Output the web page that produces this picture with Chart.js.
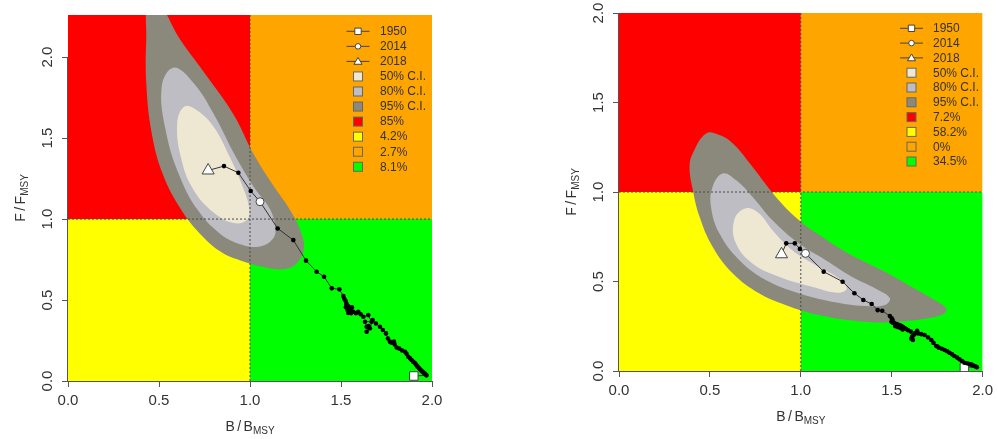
<!DOCTYPE html>
<html>
<head>
<meta charset="utf-8">
<script src="https://cdn.jsdelivr.net/npm/chart.js@4.4.1/dist/chart.umd.min.js"></script>
<style>
  html, body { margin: 0; padding: 0; background: #fff; }
  body { width: 998px; height: 439px; position: relative; overflow: hidden; }
  canvas { position: absolute; top: 0; }
</style>
</head>
<body>
<canvas id="left" width="500" height="439" style="left:0"></canvas>
<canvas id="right" width="498" height="439" style="left:500px"></canvas>
<script>
const FONT = '"Liberation Sans", Arial, Helvetica, sans-serif';

// ---- shared ----
const firstYear = 1950;
const markYears = [1950, 2014, 2018];
const xTicks = [0, 0.5, 1, 1.5, 2];
const yTicks = [0, 0.5, 1, 1.5, 2];
const refB = 1, refF = 1, xMax = 2;

const RED = '#ff0000', YELLOW = '#ffff00', ORANGE = '#ffa500', GREEN = '#00ff00';
const CI50 = '#eee8d3', CI80 = '#bdbdc3', CI95 = '#8b897c';

// ---- left panel data ----
const yMaxLeft = 2.26;
const bLeft = [1.900, 1.970, 1.965, 1.960, 1.953, 1.947, 1.941, 1.934, 1.927, 1.920,
  1.913, 1.907, 1.898, 1.888, 1.879, 1.870, 1.860, 1.852, 1.836, 1.820,
  1.806, 1.795, 1.791, 1.778, 1.769, 1.758, 1.747, 1.730, 1.714, 1.692,
  1.674, 1.659, 1.641, 1.652, 1.641, 1.632, 1.668, 1.650, 1.623, 1.608,
  1.595, 1.582, 1.568, 1.555, 1.560, 1.545, 1.540, 1.530, 1.527, 1.535,
  1.548, 1.540, 1.556, 1.530, 1.525, 1.518, 1.513, 1.491, 1.449, 1.407,
  1.366, 1.308, 1.238, 1.152, 1.055, 1.004, 0.936, 0.857, 0.770];
const fLeft = [0.031, 0.035, 0.040, 0.046, 0.052, 0.058, 0.065, 0.072, 0.082, 0.090,
  0.100, 0.109, 0.118, 0.130, 0.140, 0.150, 0.168, 0.181, 0.188, 0.200,
  0.207, 0.225, 0.243, 0.236, 0.243, 0.262, 0.294, 0.315, 0.335, 0.355,
  0.376, 0.325, 0.304, 0.340, 0.335, 0.366, 0.366, 0.407, 0.397, 0.412,
  0.428, 0.418, 0.428, 0.440, 0.455, 0.446, 0.462, 0.470, 0.455, 0.440,
  0.432, 0.420, 0.418, 0.478, 0.495, 0.508, 0.525, 0.566, 0.572, 0.644,
  0.675, 0.743, 0.870, 0.942, 1.107, 1.173, 1.286, 1.327, 1.300];
const ci95Left = [[1.295, 0.81], [1.25, 0.72], [1.17, 0.69], [1.07, 0.705], [0.96, 0.74],
  [0.85, 0.79], [0.725, 0.91], [0.615, 1.07], [0.52, 1.28], [0.46, 1.53], [0.43, 1.84],
  [0.43, 2.12], [0.44, 2.33], [0.50, 2.33], [0.61, 2.12], [0.725, 1.94], [0.907, 1.65],
  [1.016, 1.41], [1.126, 1.21], [1.22, 1.056], [1.28, 0.92]];
const ci80Left = [[0.58, 1.935], [0.515, 1.82], [0.54, 1.53], [0.615, 1.26], [0.71, 1.06],
  [0.835, 0.91], [0.96, 0.84], [1.055, 0.83], [1.12, 0.87], [1.14, 0.93], [1.11, 1.06],
  [1.02, 1.20], [0.91, 1.41], [0.80, 1.65], [0.69, 1.84]];
const ci50Left = [[0.64, 1.695], [0.60, 1.59], [0.625, 1.36], [0.69, 1.18], [0.80, 1.04],
  [0.91, 0.975], [0.985, 0.995], [0.995, 1.07], [0.96, 1.20], [0.89, 1.38], [0.80, 1.57],
  [0.71, 1.67]];
const legendLeft = ['1950', '2014', '2018', '50% C.I.', '80% C.I.', '95% C.I.', '85%', '4.2%', '2.7%', '8.1%'];

// ---- right panel data ----
const yMaxRight = 2.0;
const bRight = [1.900, 1.969, 1.962, 1.954, 1.945, 1.936, 1.927, 1.914, 1.900, 1.887,
  1.873, 1.860, 1.845, 1.832, 1.818, 1.805, 1.791, 1.776, 1.760, 1.752,
  1.745, 1.730, 1.718, 1.700, 1.681, 1.663, 1.645, 1.640, 1.627, 1.617,
  1.608, 1.612, 1.620, 1.605, 1.590, 1.580, 1.572, 1.563, 1.554, 1.545,
  1.538, 1.530, 1.524, 1.517, 1.510, 1.504, 1.499, 1.520, 1.535, 1.550,
  1.560, 1.540, 1.525, 1.510, 1.505, 1.500, 1.490, 1.448, 1.423, 1.390,
  1.344, 1.295, 1.230, 1.126, 1.026, 0.995, 0.967, 0.920, 0.894];
const fRight = [0.021, 0.021, 0.025, 0.028, 0.033, 0.037, 0.039, 0.043, 0.046, 0.056,
  0.065, 0.075, 0.084, 0.093, 0.102, 0.110, 0.117, 0.124, 0.130, 0.137,
  0.140, 0.157, 0.173, 0.188, 0.201, 0.206, 0.210, 0.225, 0.210, 0.173,
  0.180, 0.192, 0.200, 0.220, 0.228, 0.234, 0.238, 0.245, 0.251, 0.255,
  0.258, 0.260, 0.262, 0.263, 0.268, 0.272, 0.275, 0.250, 0.245, 0.240,
  0.232, 0.255, 0.262, 0.270, 0.285, 0.295, 0.307, 0.337, 0.340, 0.374,
  0.397, 0.434, 0.499, 0.555, 0.657, 0.682, 0.713, 0.713, 0.652];
const ci95Right = [[0.479, 1.327], [0.406, 1.216], [0.388, 1.141], [0.406, 1.011], [0.443, 0.862],
  [0.515, 0.694], [0.625, 0.546], [0.770, 0.434], [0.916, 0.369], [1.098, 0.313],
  [1.353, 0.275], [1.536, 0.275], [1.700, 0.294], [1.791, 0.322], [1.800, 0.350],
  [1.736, 0.397], [1.608, 0.471], [1.444, 0.564], [1.262, 0.657], [1.117, 0.750],
  [0.989, 0.844], [0.862, 0.974], [0.734, 1.141], [0.625, 1.272], [0.552, 1.318]];
const ci80Right = [[0.570, 1.104], [0.515, 1.030], [0.506, 0.918], [0.552, 0.769], [0.661, 0.620],
  [0.807, 0.508], [0.989, 0.434], [1.171, 0.387], [1.353, 0.363], [1.463, 0.369],
  [1.490, 0.406], [1.426, 0.453], [1.281, 0.527], [1.135, 0.620], [0.989, 0.713],
  [0.843, 0.844], [0.734, 0.974], [0.643, 1.067]];
const ci50Right = [[0.698, 0.909], [0.634, 0.844], [0.643, 0.713], [0.734, 0.601], [0.880, 0.527],
  [1.062, 0.471], [1.208, 0.437], [1.253, 0.462], [1.208, 0.518], [1.080, 0.592],
  [0.952, 0.676], [0.843, 0.788], [0.770, 0.881]];
const legendRight = ['1950', '2014', '2018', '50% C.I.', '80% C.I.', '95% C.I.', '7.2%', '58.2%', '0%', '34.5%'];

const legendFills = [null, null, null, CI50, CI80, CI95, RED, YELLOW, ORANGE, GREEN];
const legendMarks = ['rect', 'circle', 'triangle'];

// ---- helpers ----
function toXY(pts) {
  return pts.map(p => ({ x: p[0], y: p[1] }));
}

// filled polygon; smooth contours get wrapped ends so the spline closes without a kink
function areaSet(pts, color, order, tension) {
  const d = toXY(pts);
  const n = d.length;
  const data = tension ? [d[n - 1]].concat(d, [d[0], d[1]]) : d.concat([d[0]]);
  return {
    data, showLine: true, fill: 'shape', backgroundColor: color,
    borderColor: 'rgba(0,0,0,0)', borderWidth: 0, pointRadius: 0, tension, order
  };
}

function refLine(pts) {
  return {
    data: toXY(pts), showLine: true, fill: false, borderColor: '#4a4a4a', borderWidth: 1,
    borderDash: [2, 2], pointRadius: 0, order: 1
  };
}

function drawRatio(ctx, a, b, sub, cx, baseY) {
  const big = '14px ' + FONT, small = '10px ' + FONT, gap = 2.5;
  ctx.font = big;
  const wa = ctx.measureText(a).width, ws = ctx.measureText('/').width, wb = ctx.measureText(b).width;
  ctx.font = small;
  const wsub = ctx.measureText(sub).width;
  let px = cx - (wa + gap + ws + gap + wb + wsub) / 2;
  ctx.textAlign = 'left';
  ctx.textBaseline = 'alphabetic';
  ctx.font = big;
  ctx.fillText(a, px, baseY); px += wa + gap;
  ctx.fillText('/', px, baseY); px += ws + gap;
  ctx.fillText(b, px, baseY); px += wb;
  ctx.font = small;
  ctx.fillText(sub, px, baseY + 3);
}

function drawMark(ctx, style, x, y, s) {
  ctx.beginPath();
  if (style === 'rect') ctx.rect(x - s, y - s, 2 * s, 2 * s);
  else if (style === 'circle') ctx.arc(x, y, s, 0, Math.PI * 2);
  else {
    ctx.moveTo(x, y - s * 1.15);
    ctx.lineTo(x + s * 1.2, y + s * 0.85);
    ctx.lineTo(x - s * 1.2, y + s * 0.85);
    ctx.closePath();
  }
  ctx.fill();
  ctx.stroke();
}

// axes labels, titles and legend in R style
const kobeDecor = {
  id: 'kobeDecor',
  afterDraw(chart, args, o) {
    const { ctx, chartArea: a } = chart;
    const xs = chart.scales.x, ys = chart.scales.y;
    ctx.save();
    ctx.strokeStyle = '#555';
    ctx.lineWidth = 1;
    ctx.beginPath();
    ctx.moveTo(xs.getPixelForValue(xTicks[0]), Math.round(a.bottom) + 0.5);
    ctx.lineTo(xs.getPixelForValue(xTicks[xTicks.length - 1]), Math.round(a.bottom) + 0.5);
    ctx.moveTo(Math.round(a.left) - 0.5, ys.getPixelForValue(yTicks[0]));
    ctx.lineTo(Math.round(a.left) - 0.5, ys.getPixelForValue(yTicks[yTicks.length - 1]));
    ctx.stroke();

    // rotated y tick labels
    ctx.fillStyle = '#333';
    ctx.font = '15px ' + FONT;
    ctx.textAlign = 'center';
    ctx.textBaseline = 'alphabetic';
    yTicks.forEach(v => {
      ctx.save();
      ctx.translate(a.left - 21, ys.getPixelForValue(v));
      ctx.rotate(-Math.PI / 2);
      ctx.fillText(v.toFixed(1), 0, 5.4);
      ctx.restore();
    });

    // axis titles
    drawRatio(ctx, 'B', 'B', 'MSY', (a.left + a.right) / 2, a.bottom + 50);
    ctx.save();
    ctx.translate(a.left - 43, (a.top + a.bottom) / 2);
    ctx.rotate(-Math.PI / 2);
    drawRatio(ctx, 'F', 'F', 'MSY', 0, 0);
    ctx.restore();

    // legend
    o.labels.forEach((label, i) => {
      const cy = o.top + i * o.step;
      const cx = o.symX;
      ctx.strokeStyle = '#444';
      ctx.lineWidth = 1;
      if (i < 3) {
        ctx.beginPath();
        ctx.moveTo(cx - 11.5, cy);
        ctx.lineTo(cx + 11.5, cy);
        ctx.stroke();
        ctx.fillStyle = '#fff';
        drawMark(ctx, legendMarks[i], cx, cy, i === 0 ? 3.2 : i === 1 ? 2.8 : 3.4);
      } else {
        ctx.fillStyle = legendFills[i];
        ctx.strokeStyle = '#666';
        ctx.fillRect(cx - 4.5, cy - 4.5, 9, 9);
        ctx.strokeRect(cx - 4.5, cy - 4.5, 9, 9);
      }
      ctx.fillStyle = '#333';
      ctx.font = '12px ' + FONT;
      ctx.textAlign = 'left';
      ctx.textBaseline = 'middle';
      ctx.fillText(label, o.textX, cy + 0.5);
    });
    ctx.restore();
  }
};

function makeKobe(id, b, f, ci50, ci80, ci95, yMax, labels, box) {
  const traj = b.map((v, i) => ({ x: v, y: f[i] }));
  const last = b.length - 1;
  const yearOf = i => firstYear + i;
  const isMark = i => markYears.includes(yearOf(i));
  const quads = [
    areaSet([[0, refF], [refB, refF], [refB, yMax], [0, yMax]], RED, 5, 0),
    areaSet([[refB, refF], [xMax, refF], [xMax, yMax], [refB, yMax]], ORANGE, 5, 0),
    areaSet([[0, 0], [refB, 0], [refB, refF], [0, refF]], YELLOW, 5, 0),
    areaSet([[refB, 0], [xMax, 0], [xMax, refF], [refB, refF]], GREEN, 5, 0)
  ];
  const datasets = [
    {
      data: traj, showLine: true, borderColor: '#333', borderWidth: 1, order: 0,
      pointStyle: traj.map((p, i) => yearOf(i) === markYears[0] ? 'rect' : i === last ? 'triangle' : 'circle'),
      pointRadius: traj.map((p, i) => yearOf(i) === markYears[0] ? 6 : yearOf(i) === markYears[1] ? 4 : i === last ? 7 : 2.3),
      pointBackgroundColor: traj.map((p, i) => isMark(i) ? '#fff' : '#000'),
      pointBorderColor: traj.map((p, i) => isMark(i) ? '#444' : '#000'),
      pointBorderWidth: traj.map((p, i) => isMark(i) ? 1 : 0)
    },
    refLine([[refB, 0], [refB, yMax]]),
    refLine([[0, refF], [xMax, refF]]),
    areaSet(ci50, CI50, 2, 0.4),
    areaSet(ci80, CI80, 3, 0.4),
    areaSet(ci95, CI95, 4, 0.4)
  ].concat(quads);

  const gridOpts = { drawOnChartArea: false, drawTicks: true, tickLength: 6, tickColor: '#555', color: '#555' };
  return new Chart(document.getElementById(id), {
    type: 'scatter',
    data: { datasets },
    options: {
      responsive: false,
      animation: false,
      events: [],
      layout: { padding: { left: 0, top: box.top, right: box.right, bottom: 0 } },
      plugins: {
        legend: { display: false },
        tooltip: { enabled: false },
        kobeDecor: { labels, symX: box.symX, textX: box.textX, top: box.legTop, step: box.legStep }
      },
      scales: {
        x: {
          type: 'linear', min: 0, max: xMax,
          afterBuildTicks: s => { s.ticks = xTicks.map(v => ({ value: v })); },
          afterFit: s => { s.height = box.xAxisH; },
          ticks: {
            callback: v => v.toFixed(1), font: { family: FONT, size: 15 }, color: '#333',
            padding: 5, maxRotation: 0, autoSkip: false
          },
          grid: gridOpts,
          border: { display: false }
        },
        y: {
          type: 'linear', min: 0, max: yMax,
          afterBuildTicks: s => { s.ticks = yTicks.map(v => ({ value: v })); },
          afterFit: s => { s.width = box.yAxisW; },
          ticks: { display: false },
          grid: gridOpts,
          border: { display: false }
        }
      }
    },
    plugins: [kobeDecor]
  });
}

makeKobe('left', bLeft, fLeft, ci50Left, ci80Left, ci95Left, yMaxLeft, legendLeft,
  { top: 15, right: 68, yAxisW: 68, xAxisH: 58, symX: 358, textX: 380, legTop: 31.3, legStep: 15.05 });
makeKobe('right', bRight, fRight, ci50Right, ci80Right, ci95Right, yMaxRight, legendRight,
  { top: 13, right: 12, yAxisW: 119, xAxisH: 68, symX: 411.5, textX: 433, legTop: 28.3, legStep: 14.8 });
</script>
</body>
</html>
